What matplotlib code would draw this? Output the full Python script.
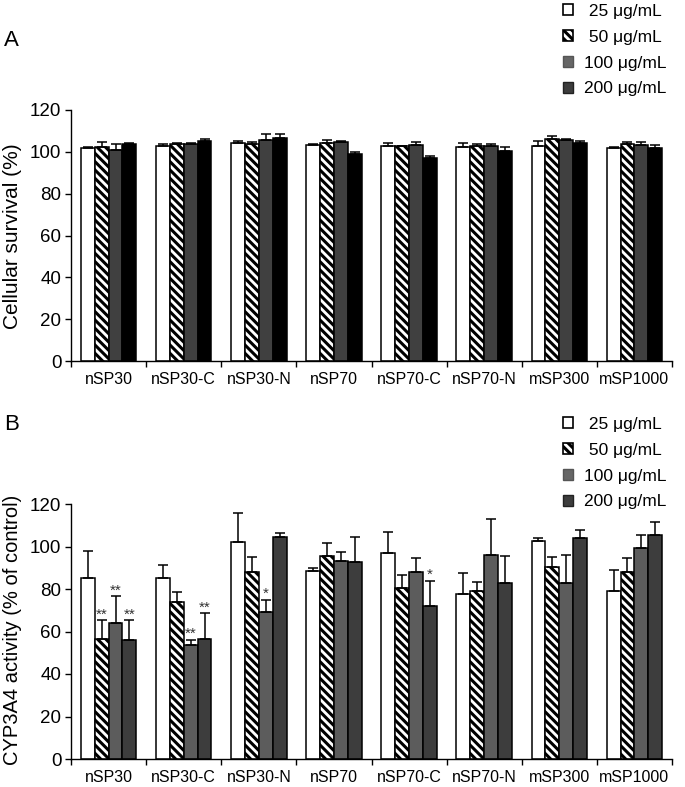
import matplotlib
matplotlib.use('Agg')
import matplotlib.pyplot as plt
import numpy as np
from matplotlib.patches import Patch

plt.rcParams['font.family'] = ['Liberation Sans', 'DejaVu Sans']
plt.rcParams['hatch.linewidth'] = 2.2

categories = ['nSP30', 'nSP30-C', 'nSP30-N', 'nSP70', 'nSP70-C', 'nSP70-N', 'mSP300', 'mSP1000']
doses = [' 25 μg/mL', ' 50 μg/mL', '100 μg/mL', '200 μg/mL']

# panel A: cellular survival (%)
surv_25 = [101.9, 102.6, 104.2, 103.5, 102.9, 102.4, 102.6, 101.9]
surv_25_err = [0.3, 1.2, 1.1, 0.4, 1.1, 1.6, 2.5, 0.4]
surv_50 = [102.4, 103.8, 103.8, 104.3, 102.7, 102.7, 105.9, 103.7]
surv_50_err = [2.4, 0.5, 0.8, 1.3, 0.3, 1.0, 1.5, 1.0]
surv_100 = [100.8, 103.8, 105.6, 104.8, 103.5, 102.9, 105.6, 103.5]
surv_100_err = [2.9, 0.5, 2.9, 0.3, 1.0, 0.9, 0.3, 1.0]
surv_200 = [103.7, 105.1, 106.4, 99.0, 97.0, 100.3, 104.0, 101.6]
surv_200_err = [0.5, 0.8, 2.1, 0.7, 0.8, 2.1, 1.3, 1.8]

# panel B: CYP3A4 activity (% of control)
cyp_25 = [85.1, 85.1, 102.1, 88.7, 96.9, 77.7, 102.8, 79.1]
cyp_25_err = [12.6, 6.0, 13.6, 1.1, 9.7, 9.6, 1.0, 9.8]
cyp_50 = [56.4, 74.0, 88.2, 95.3, 80.7, 79.0, 90.3, 88.2]
cyp_50_err = [8.9, 4.5, 6.8, 6.4, 5.8, 4.5, 4.8, 6.3]
cyp_100 = [64.1, 53.7, 69.1, 93.3, 88.1, 95.9, 82.8, 99.2]
cyp_100_err = [12.5, 2.2, 5.9, 4.2, 6.4, 17.0, 13.0, 6.4]
cyp_200 = [55.9, 56.4, 104.4, 92.8, 71.9, 82.8, 104.0, 105.6]
cyp_200_err = [9.4, 12.1, 2.1, 11.6, 11.9, 12.7, 4.0, 5.9]

cyp_25_sig = ['', '', '', '', '', '', '', '']
cyp_50_sig = ['**', '', '', '', '', '', '', '']
cyp_100_sig = ['**', '**', '*', '', '', '', '', '']
cyp_200_sig = ['**', '**', '', '', '*', '', '', '']


def draw_panel(ax, series, errs, colors, sigs=None):
    x = np.arange(len(categories)) + 0.5
    w = 0.185
    hatches = ['', '\\\\\\\\', '', '']
    for k, (vals, err) in enumerate(zip(series, errs)):
        pos = x + (k - 1.5) * w
        ax.bar(pos, vals, w, color=colors[k], edgecolor='black', linewidth=1.1,
               hatch=hatches[k], zorder=2)
        ax.errorbar(pos, vals, yerr=[np.zeros(len(vals)), err], fmt='none',
                    ecolor='black', elinewidth=1.1, capsize=3.5, capthick=1.1, zorder=3)
        if sigs is not None:
            for p, v, e, s in zip(pos, vals, err, sigs[k]):
                if s:
                    ax.text(p, v + e - 0.5, s, ha='center', va='bottom',
                            fontsize=11, color='#333333')
    ax.set_xlim(0, len(categories))
    ax.set_ylim(0, 120)
    ax.set_yticks(range(0, 121, 20))
    ax.set_xticks(x)
    ax.set_xticklabels(categories, fontsize=11.5)
    ax.set_xticks(np.arange(len(categories) + 1), minor=True)
    ax.tick_params(axis='x', which='major', length=0, pad=8)
    ax.tick_params(axis='x', which='minor', length=4, width=1, direction='out')
    ax.tick_params(axis='y', labelsize=13.5, length=4, width=1, direction='out', pad=3)
    for side in ['top', 'right']:
        ax.spines[side].set_visible(False)
    for side in ['left', 'bottom']:
        ax.spines[side].set_linewidth(1)


def add_legend(ax, top_px):
    handles = [Patch(facecolor='white', edgecolor='black', linewidth=1.2),
               Patch(facecolor='white', edgecolor='black', hatch='\\\\\\\\', linewidth=1.2),
               Patch(facecolor='#666666', edgecolor='#555555', linewidth=1),
               Patch(facecolor='#3d3d3d', edgecolor='#222222', linewidth=1)]
    ax.legend(handles, doses, loc='upper left', frameon=False, fontsize=12.5,
              bbox_to_anchor=(563 / 685, 1 - top_px / 787), bbox_transform=fig.transFigure,
              handlelength=0.6, handleheight=0.6, handletextpad=0.6,
              labelspacing=0.62, borderpad=0, borderaxespad=0)


fig = plt.figure(figsize=(6.85, 7.87), dpi=100)

axA = fig.add_axes([71 / 685, 426 / 787, 601 / 685, 251 / 787])
draw_panel(axA, [surv_25, surv_50, surv_100, surv_200],
           [surv_25_err, surv_50_err, surv_100_err, surv_200_err],
           ['white', 'white', '#404040', '#000000'])
add_legend(axA, 4)

axB = fig.add_axes([71 / 685, 28 / 787, 601 / 685, 255 / 787])
draw_panel(axB, [cyp_25, cyp_50, cyp_100, cyp_200],
           [cyp_25_err, cyp_50_err, cyp_100_err, cyp_200_err],
           ['white', 'white', '#5c5c5c', '#3d3d3d'],
           [cyp_25_sig, cyp_50_sig, cyp_100_sig, cyp_200_sig])
add_legend(axB, 417)

fig.text(4 / 685, 1 - 40 / 787, 'A', fontsize=16, ha='left', va='center')
fig.text(4 / 685, 1 - 425 / 787, 'B', fontsize=16, ha='left', va='center')
fig.text(13 / 685, 1 - 236 / 787, 'Cellular survival (%)', fontsize=15,
         rotation=90, ha='center', va='center')
fig.text(13 / 685, 1 - 630 / 787, 'CYP3A4 activity (% of control)', fontsize=14.5,
         rotation=90, ha='center', va='center')

fig.savefig('out.png', dpi=100)
